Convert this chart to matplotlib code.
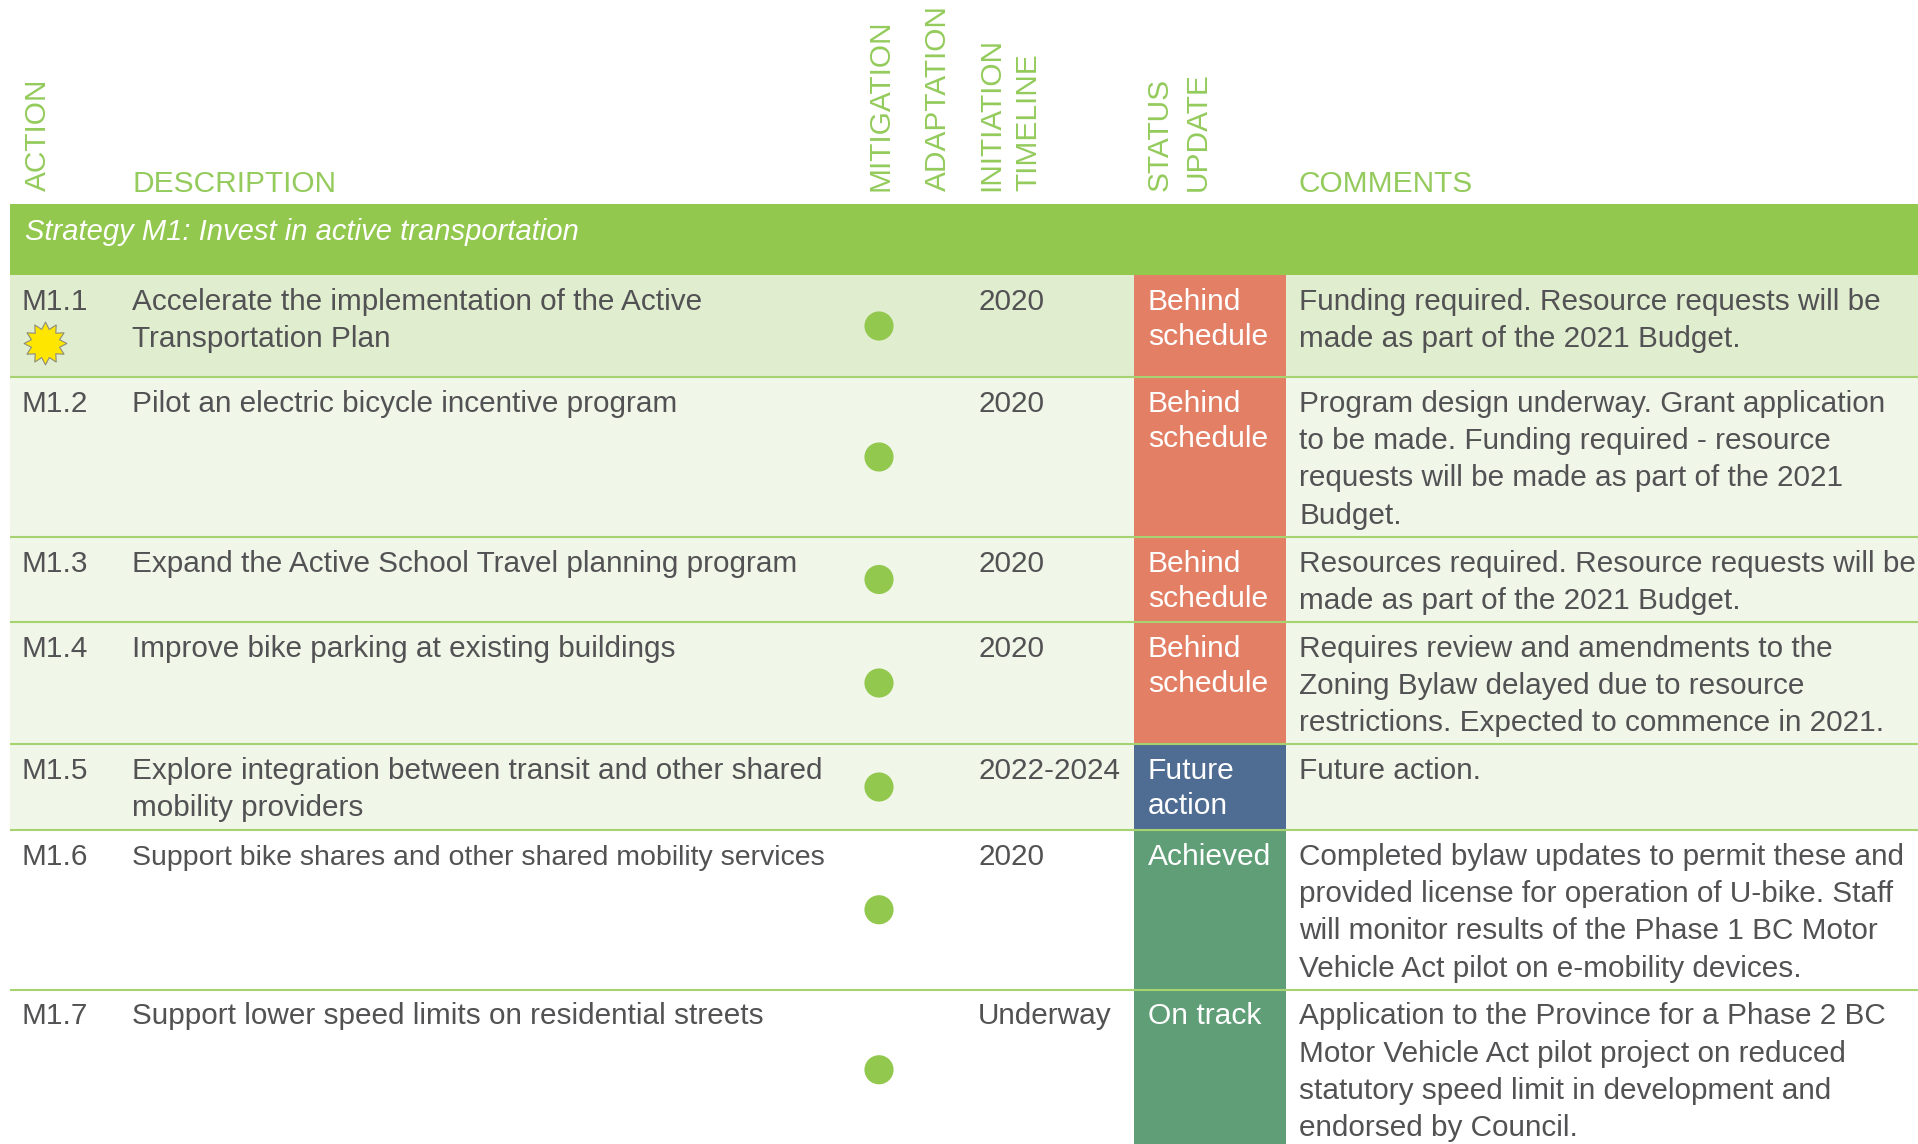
import matplotlib
matplotlib.use("Agg")
import matplotlib.pyplot as plt
from matplotlib.patches import Rectangle
from matplotlib.path import Path

plt.rcParams['font.family'] = ['Liberation Sans', 'DejaVu Sans']

# table content
actions = ["M1.1", "M1.2", "M1.3", "M1.4", "M1.5", "M1.6", "M1.7"]
descriptions = [
    ["Accelerate the implementation of the Active", "Transportation Plan"],
    ["Pilot an electric bicycle incentive program"],
    ["Expand the Active School Travel planning program"],
    ["Improve bike parking at existing buildings"],
    ["Explore integration between transit and other shared", "mobility providers"],
    ["Support bike shares and other shared mobility services"],
    ["Support lower speed limits on residential streets"],
]
timeline = ["2020", "2020", "2020", "2020", "2022-2024", "2020", "Underway"]
status = [
    ["Behind", "schedule"],
    ["Behind", "schedule"],
    ["Behind", "schedule"],
    ["Behind", "schedule"],
    ["Future", "action"],
    ["Achieved"],
    ["On track"],
]
comments = [
    ["Funding required. Resource requests will be", "made as part of the 2021 Budget."],
    ["Program design underway. Grant application", "to be made. Funding required - resource",
     "requests will be made as part of the 2021", "Budget."],
    ["Resources required. Resource requests will be", "made as part of the 2021 Budget."],
    ["Requires review and amendments to the", "Zoning Bylaw delayed due to resource",
     "restrictions. Expected to commence in 2021."],
    ["Future action."],
    ["Completed bylaw updates to permit these and", "provided license for operation of U-bike. Staff",
     "will monitor results of the Phase 1 BC Motor", "Vehicle Act pilot on e-mobility devices."],
    ["Application to the Province for a Phase 2 BC", "Motor Vehicle Act pilot project on reduced",
     "statutory speed limit in development and", "endorsed by Council."],
]
strategy = "Strategy M1: Invest in active transportation"
rot_headers = ["ACTION", "MITIGATION", "ADAPTATION", "INITIATION", "TIMELINE", "STATUS", "UPDATE"]
flat_headers = ["DESCRIPTION", "COMMENTS"]

# colours
band_green = "#92C84D"
head_green = "#94CB5C"
line_green = "#A6D270"
text_grey = "#525254"
status_colors = {"Behind": "#E37F65", "Future": "#4F6C92", "Achieved": "#5F9E76", "On track": "#5F9E76"}
row_fills = ["#E1EDCF", "#F0F6E8", "#F0F6E8", "#F0F6E8", "#F0F6E8", "#FFFFFF", "#FFFFFF"]

# layout, pixels of the page
row_edges = [275, 377, 537, 622, 744, 830, 989.5, 1150]
rot_x = [38, 880.5, 938, 991, 1028, 1160, 1197.5]
flat_x = [132.5, 1299]
left, right = 10, 1918
status_l, status_r = 1134, 1286
fs = 21.4
fs_head = 21.5
fs_status = 21.6
line_h = 37.2
status_h = 35

fig = plt.figure(figsize=(19.18, 11.44), dpi=100)
ax = fig.add_axes([0, 0, 1, 1])
ax.set_xlim(0, 1918)
ax.set_ylim(1144, 0)
ax.axis('off')

for x, t in zip(rot_x, rot_headers):
    ax.text(x, 191, t, rotation=90, ha='center', va='bottom', fontsize=fs_head, color=head_green)
for x, t in zip(flat_x, flat_headers):
    ax.text(x, 192, t, ha='left', va='baseline', fontsize=fs_head, color=head_green)

ax.add_patch(Rectangle((left, 203.5), right - left, row_edges[0] - 203.5, fc=band_green, ec='none'))
ax.text(25, 240, strategy, ha='left', va='baseline', fontsize=21, style='italic', color='white')

for i in range(len(actions)):
    top, bot = row_edges[i], row_edges[i + 1]
    ax.add_patch(Rectangle((left, top), right - left, bot - top, fc=row_fills[i], ec='none', zorder=1))
    ax.add_patch(Rectangle((status_l, top), status_r - status_l, bot - top,
                           fc=status_colors[status[i][0]], ec='none', zorder=2))
    ax.plot([left, right], [bot, bot], color=line_green, lw=1.5, zorder=3, solid_capstyle='butt')
    base = top + 35
    ax.text(22, base, actions[i], ha='left', va='baseline', fontsize=fs, color=text_grey, zorder=4)
    ax.text(978, base, timeline[i], ha='left', va='baseline', fontsize=fs, color=text_grey, zorder=4)
    for j, t in enumerate(descriptions[i]):
        # the M1.6 line is set tighter in the original, it has to fit before the dot column
        size = 20.5 if i == 5 else fs
        ax.text(132.5, base + j * line_h, t, ha='left', va='baseline', fontsize=size, color=text_grey, zorder=4)
    for j, t in enumerate(comments[i]):
        ax.text(1299, base + j * line_h, t, ha='left', va='baseline', fontsize=fs, color=text_grey, zorder=4)
    for j, t in enumerate(status[i]):
        ax.text(1148, base + j * status_h, t, ha='left', va='baseline', fontsize=fs_status, color='white', zorder=4)
    ax.scatter([879], [(top + bot) / 2], s=440, color=band_green, edgecolors='none', zorder=4)

# yellow burst next to M1.1
burst = Path.unit_regular_star(12, innerCircle=0.68)
ax.scatter([44.5], [343], s=950, marker=burst, color="#FFE600", edgecolors="#8C8C7A", linewidths=0.8, zorder=5)

fig.savefig("out.png", dpi=100)
